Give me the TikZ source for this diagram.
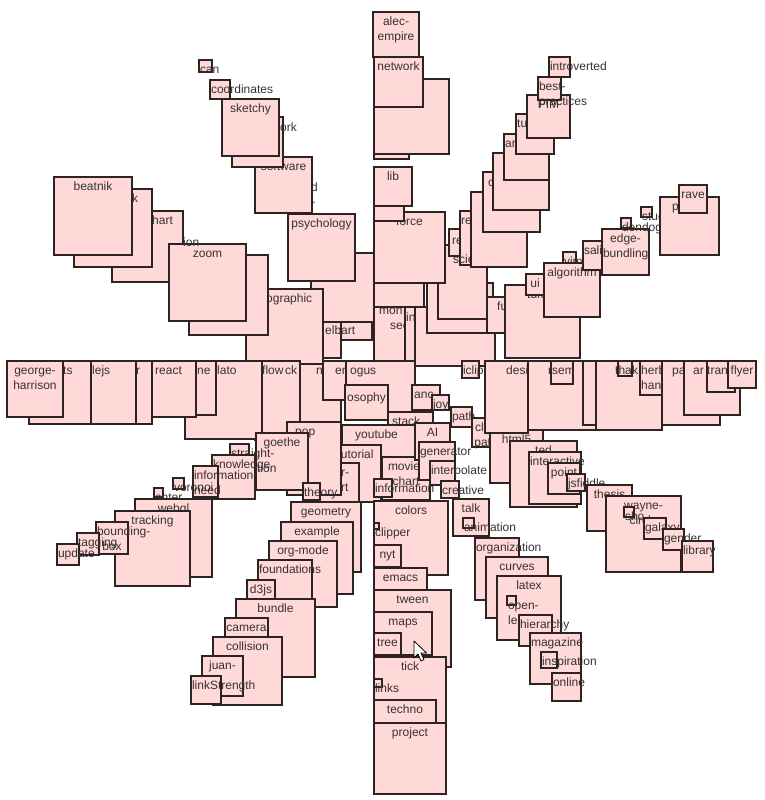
\documentclass[tikz,border=0pt]{standalone}
\usepackage{fontspec}
\setmainfont{Liberation Sans}
\definecolor{tagfill}{RGB}{255,216,216}
\definecolor{tagline}{RGB}{45,35,35}
\definecolor{tagtext}{RGB}{55,50,50}
\newcommand\tagfont{\fontsize{12}{15}\selectfont\hyphenpenalty=10000\relax}
\tikzset{
  tag/.style={draw=tagline, fill=tagfill, line width=1.2pt},
  tagname/.style={anchor=north, inner sep=0pt, align=center, font=\tagfont,
    text=tagtext, execute at begin node=\noindent\strut},
  tagpart/.style={anchor=base west, inner sep=0pt, font=\tagfont, text=tagtext},
}
% box with its label: name, left, top, right, bottom, label
\newcommand\tagbox[6]{%
  \draw[tag] (#2,#3) rectangle (#4,#5);
  \pgfmathsetmacro\tagw{#4-#2-2}%
  \node[tagname, text width=\tagw pt] (#1) at ({(#2+#4)/2},{#3+2.5}) {#6};
}
% box whose label is hidden
\newcommand\plainbox[4]{\draw[tag] (#1,#2) rectangle (#3,#4);}

\begin{document}
\begin{tikzpicture}[x=1pt,y=-1pt]
\useasboundingbox (0,0) rectangle (765,800);

% centre
\plainbox{415}{307}{495}{366}
\plainbox{427}{283}{493}{333}
\plainbox{438}{245}{487}{319}
\plainbox{311}{253}{379}{322}
\plainbox{374}{283}{424}{307}
\plainbox{374}{307}{405}{373}
\node[tagpart] (mon) at (379,314) {mon};
\node[tagpart] (see) at (390,329) {see};
\plainbox{405}{307}{415}{361}
\node[tagpart] (in) at (406,321) {in};
\plainbox{323}{322}{341}{358}
\plainbox{341}{322}{372}{340}
\node[tagpart] (elbart) at (325,334) {elbart};
\plainbox{487}{297}{505}{333}
\node[tagpart] (fu) at (497,310) {fu};
\plainbox{287}{361}{341}{422}
\node[tagpart] (na) at (316,374) {na};
\plainbox{323}{361}{346}{400}
\node[tagpart] (eri) at (335,374) {eri};
\plainbox{346}{361}{415}{420}
\node[tagpart] (ogus) at (350,374) {ogus};
\plainbox{345}{385}{388}{420}
\node[tagpart] (osophy) at (347,401) {osophy};
\plainbox{412}{385}{440}{410}
\node[tagpart] (anc) at (414,398) {anc};
\tagbox{joy}{432}{395}{449}{410}{joy}
\plainbox{388}{412}{433}{440}
\node[tagpart] (stack) at (392,425) {stack};

% north
\tagbox{force}{374}{212}{445}{283}{force}
\plainbox{374}{206}{404}{221}
\tagbox{lib}{374}{167}{412}{206}{lib}
\plainbox{374}{154}{409}{159}
\plainbox{374}{79}{449}{154}
\tagbox{network}{374}{57}{423}{107}{network}
\tagbox{alec}{373}{12}{419}{57}{alec-empire}

% north-north-west
\tagbox{psychology}{288}{214}{355}{281}{psychology}
\node[tagpart] (d) at (311,191) {d};
\node[tagpart] (r) at (311,208) {r};
\tagbox{software}{255}{157}{312}{213}{software}
\plainbox{232}{117}{283}{167}
\node[tagpart] (ork) at (280,131) {ork};
\tagbox{sketchy}{222}{99}{279}{156}{sketchy}
\tagbox{coordinates}{210}{80}{230}{99}{coordinates}
\tagbox{can}{199}{60}{212}{72}{can}

% west-north-west
\plainbox{246}{289}{323}{364}
\node[tagpart] (ographic) at (266,302) {ographic};
\plainbox{189}{255}{268}{335}
\plainbox{112}{211}{183}{282}
\node[tagpart] (hart) at (152,224) {hart};
\tagbox{zoom}{169}{244}{246}{321}{zoom}
\node[tagpart] (ion) at (183,246) {ion};
\plainbox{74}{189}{152}{267}
\node[tagpart] (k) at (132,202) {k};
\tagbox{beatnik}{54}{177}{132}{255}{beatnik}

% west
\plainbox{255}{361}{300}{440}
\node[tagpart] (flow) at (262,374) {flow};
\node[tagpart] (ck) at (285,374) {ck};
\plainbox{185}{361}{262}{439}
\node[tagpart] (lato) at (217,374) {lato};
\plainbox{196}{361}{216}{415}
\node[tagpart] (ne) at (197,374) {ne};
\plainbox{152}{361}{196}{417}
\node[tagpart] (react) at (155,374) {react};
\plainbox{110}{361}{152}{424}
\node[tagpart] (rr) at (136,374) {r};
\plainbox{91}{361}{136}{424}
\node[tagpart] (lejs) at (92,374) {lejs};
\plainbox{29}{361}{91}{424}
\node[tagpart] (ts) at (63,374) {ts};
\tagbox{george}{7}{361}{63}{417}{george-harrison}

% south, inner part
\plainbox{342}{425}{415}{480}
\node[tagpart] (youtube) at (355,438) {youtube};
\tagbox{tutorial}{330}{445}{381}{502}{tutorial}
\plainbox{320}{463}{359}{505}
\node[tagpart] (rdash) at (341,476) {r-};
\node[tagpart] (rt) at (341,491) {rt};

% west-south-west
\plainbox{287}{422}{341}{495}
\node[tagpart] (pop) at (295,435) {pop};
\tagbox{goethe}{256}{433}{308}{490}{goethe}
\tagbox{straight}{230}{444}{249}{455}{straight-}
\tagbox{knowledge}{212}{455}{255}{499}{knowledge}
\tagbox{information-need}{193}{466}{218}{497}{information-need}
\node[tagpart] (tion) at (257,472) {tion};
\tagbox{voronoi}{173}{478}{184}{489}{voronoi}
\tagbox{enter}{154}{488}{163}{497}{enter}
\tagbox{webgl}{135}{499}{212}{577}{webgl}
\tagbox{tracking}{115}{511}{190}{586}{tracking}
\tagbox{bounding}{96}{522}{128}{554}{bounding-box}
\tagbox{tagging}{77}{533}{99}{555}{tagging}
\tagbox{update}{57}{544}{79}{565}{update}

% south-south-west
\tagbox{theory}{303}{483}{320}{500}{theory}
\tagbox{geometry}{291}{502}{361}{572}{geometry}
\tagbox{example}{281}{522}{353}{594}{example}
\tagbox{orgmode}{269}{541}{337}{607}{org-mode}
\tagbox{foundations}{258}{560}{312}{614}{foundations}
\tagbox{d3js}{247}{580}{275}{600}{d3js}
\tagbox{bundle}{236}{599}{315}{677}{bundle}
\tagbox{camera}{225}{618}{268}{661}{camera}
\tagbox{collision}{213}{637}{282}{705}{collision}
\tagbox{juan}{202}{656}{243}{696}{juan-}
\tagbox{linkStrength}{191}{676}{221}{704}{linkStrength}

% south
\tagbox{moviechart}{382}{457}{430}{500}{movie-chart}
\tagbox{information}{374}{479}{392}{497}{information}
\tagbox{colors}{374}{501}{448}{575}{colors}
\tagbox{clipper}{374}{523}{379}{529}{clipper}
\tagbox{nyt}{374}{545}{401}{567}{nyt}
\tagbox{emacs}{374}{568}{427}{590}{emacs}
\tagbox{tween}{374}{590}{451}{667}{tween}
\tagbox{maps}{374}{612}{432}{655}{maps}
\tagbox{tree}{374}{633}{401}{655}{tree}
\tagbox{tick}{374}{657}{446}{729}{tick}
\tagbox{links}{374}{679}{382}{687}{links}
\tagbox{techno}{374}{700}{436}{723}{techno}
\tagbox{project}{374}{723}{446}{794}{project}

% south-south-east
\tagbox{AI}{415}{423}{450}{460}{AI}
\tagbox{generator}{419}{442}{455}{480}{generator}
\tagbox{interpolate}{430}{461}{455}{485}{interpolate}
\tagbox{creative}{441}{481}{459}{498}{creative}
\tagbox{talk}{453}{499}{489}{536}{talk}
\tagbox{animation}{463}{518}{474}{528}{animation}
\tagbox{organization}{475}{538}{519}{600}{organization}
\tagbox{curves}{486}{557}{548}{618}{curves}
\tagbox{latex}{497}{576}{561}{640}{latex}
\tagbox{open}{507}{596}{516}{605}{open-}
\node[tagpart] (le) at (508,624) {le};
\tagbox{hierarchy}{519}{615}{552}{646}{hierarchy}
\tagbox{magazine}{530}{633}{581}{684}{magazine}
\tagbox{inspiration}{541}{652}{557}{668}{inspiration}
\tagbox{online}{552}{673}{581}{701}{online}

% east-south-east
\tagbox{path}{451}{407}{472}{427}{path}
\tagbox{clippath}{472}{418}{500}{447}{clip-path}
\tagbox{html5}{490}{430}{543}{483}{html5}
\tagbox{ted}{510}{441}{577}{507}{ted}
\tagbox{interactive}{529}{452}{581}{504}{interactive}
\tagbox{point}{548}{463}{580}{494}{point}
\tagbox{jsfiddle}{567}{474}{585}{491}{jsfiddle}
\tagbox{thesis}{587}{485}{632}{531}{thesis}
\tagbox{wayne}{606}{496}{681}{572}{wayne-\\circle}
\tagbox{sho}{624}{507}{634}{517}{sho}
\tagbox{galaxy}{644}{518}{666}{539}{galaxy}
\tagbox{gender}{663}{529}{684}{550}{gender}
\tagbox{library}{682}{541}{713}{572}{library}

% east
\tagbox{iclip}{462}{361}{479}{378}{iclip}
\plainbox{485}{361}{528}{433}
\node[tagpart] (desi) at (506,374) {desi};
\plainbox{528}{361}{596}{430}
\plainbox{551}{361}{573}{384}
\node[tagpart] (rsem) at (548,374) {rsem};
\plainbox{583}{361}{640}{425}
\plainbox{596}{361}{662}{430}
\plainbox{618}{361}{632}{376}
\node[tagpart] (tha) at (615,374) {tha};
\node[tagpart] (thak) at (632,374) {k};
\plainbox{640}{361}{662}{395}
\node[tagpart] (herb) at (641,374) {herb};
\node[tagpart] (hanc) at (641,389) {hanc};
\plainbox{662}{361}{720}{425}
\node[tagpart] (pa) at (672,374) {pa};
\plainbox{684}{361}{740}{415}
\node[tagpart] (ar) at (693,374) {ar};
\plainbox{707}{361}{735}{392}
\node[tagpart] (tran) at (707,374) {tran};
\tagbox{flyer}{728}{361}{756}{388}{flyer}

% east-north-east
\plainbox{505}{285}{580}{358}
\node[tagpart] (tum) at (527,298) {tum};
\tagbox{ui}{526}{274}{544}{295}{ui}
\tagbox{vim}{563}{252}{576}{263}{vim}
\tagbox{algorithm}{544}{263}{600}{317}{algorithm}
\tagbox{sali}{583}{241}{603}{270}{sali}
\tagbox{edge}{602}{229}{649}{275}{edge-bundling}
\tagbox{dendog}{621}{218}{631}{228}{dendog}
\tagbox{stud}{641}{207}{652}{217}{stud}
\plainbox{660}{197}{719}{255}
\node[tagpart] (p) at (672,210) {p};
\tagbox{rave}{679}{185}{707}{213}{rave}

% north-north-east
\plainbox{449}{229}{460}{256}
\node[tagpart] (re) at (452,244) {re};
\plainbox{460}{211}{510}{265}
\node[tagpart] (ree) at (461,224) {re};
\node[tagpart] (scie) at (453,263) {scie};
\plainbox{471}{192}{527}{267}
\plainbox{483}{172}{540}{232}
\node[tagpart] (c) at (488,186) {c};
\tagbox{axis}{493}{153}{549}{210}{axis}
\plainbox{504}{134}{549}{180}
\node[tagpart] (arr) at (505,147) {ar};
\plainbox{516}{114}{554}{154}
\node[tagpart] (tu) at (517,127) {tu};
\tagbox{PIM}{527}{95}{570}{138}{PIM}
\tagbox{best}{538}{77}{561}{100}{best-practices}
\tagbox{introverted}{549}{57}{570}{77}{introverted}

% pointer
\draw[fill=white, line width=0.8pt, line join=round]
  (414,641) -- ++(0,17) -- ++(4,-4) -- ++(3,7) -- ++(3,-1.5)
  -- ++(-3,-6.5) -- ++(5.5,0) -- cycle;
\end{tikzpicture}
\end{document}
